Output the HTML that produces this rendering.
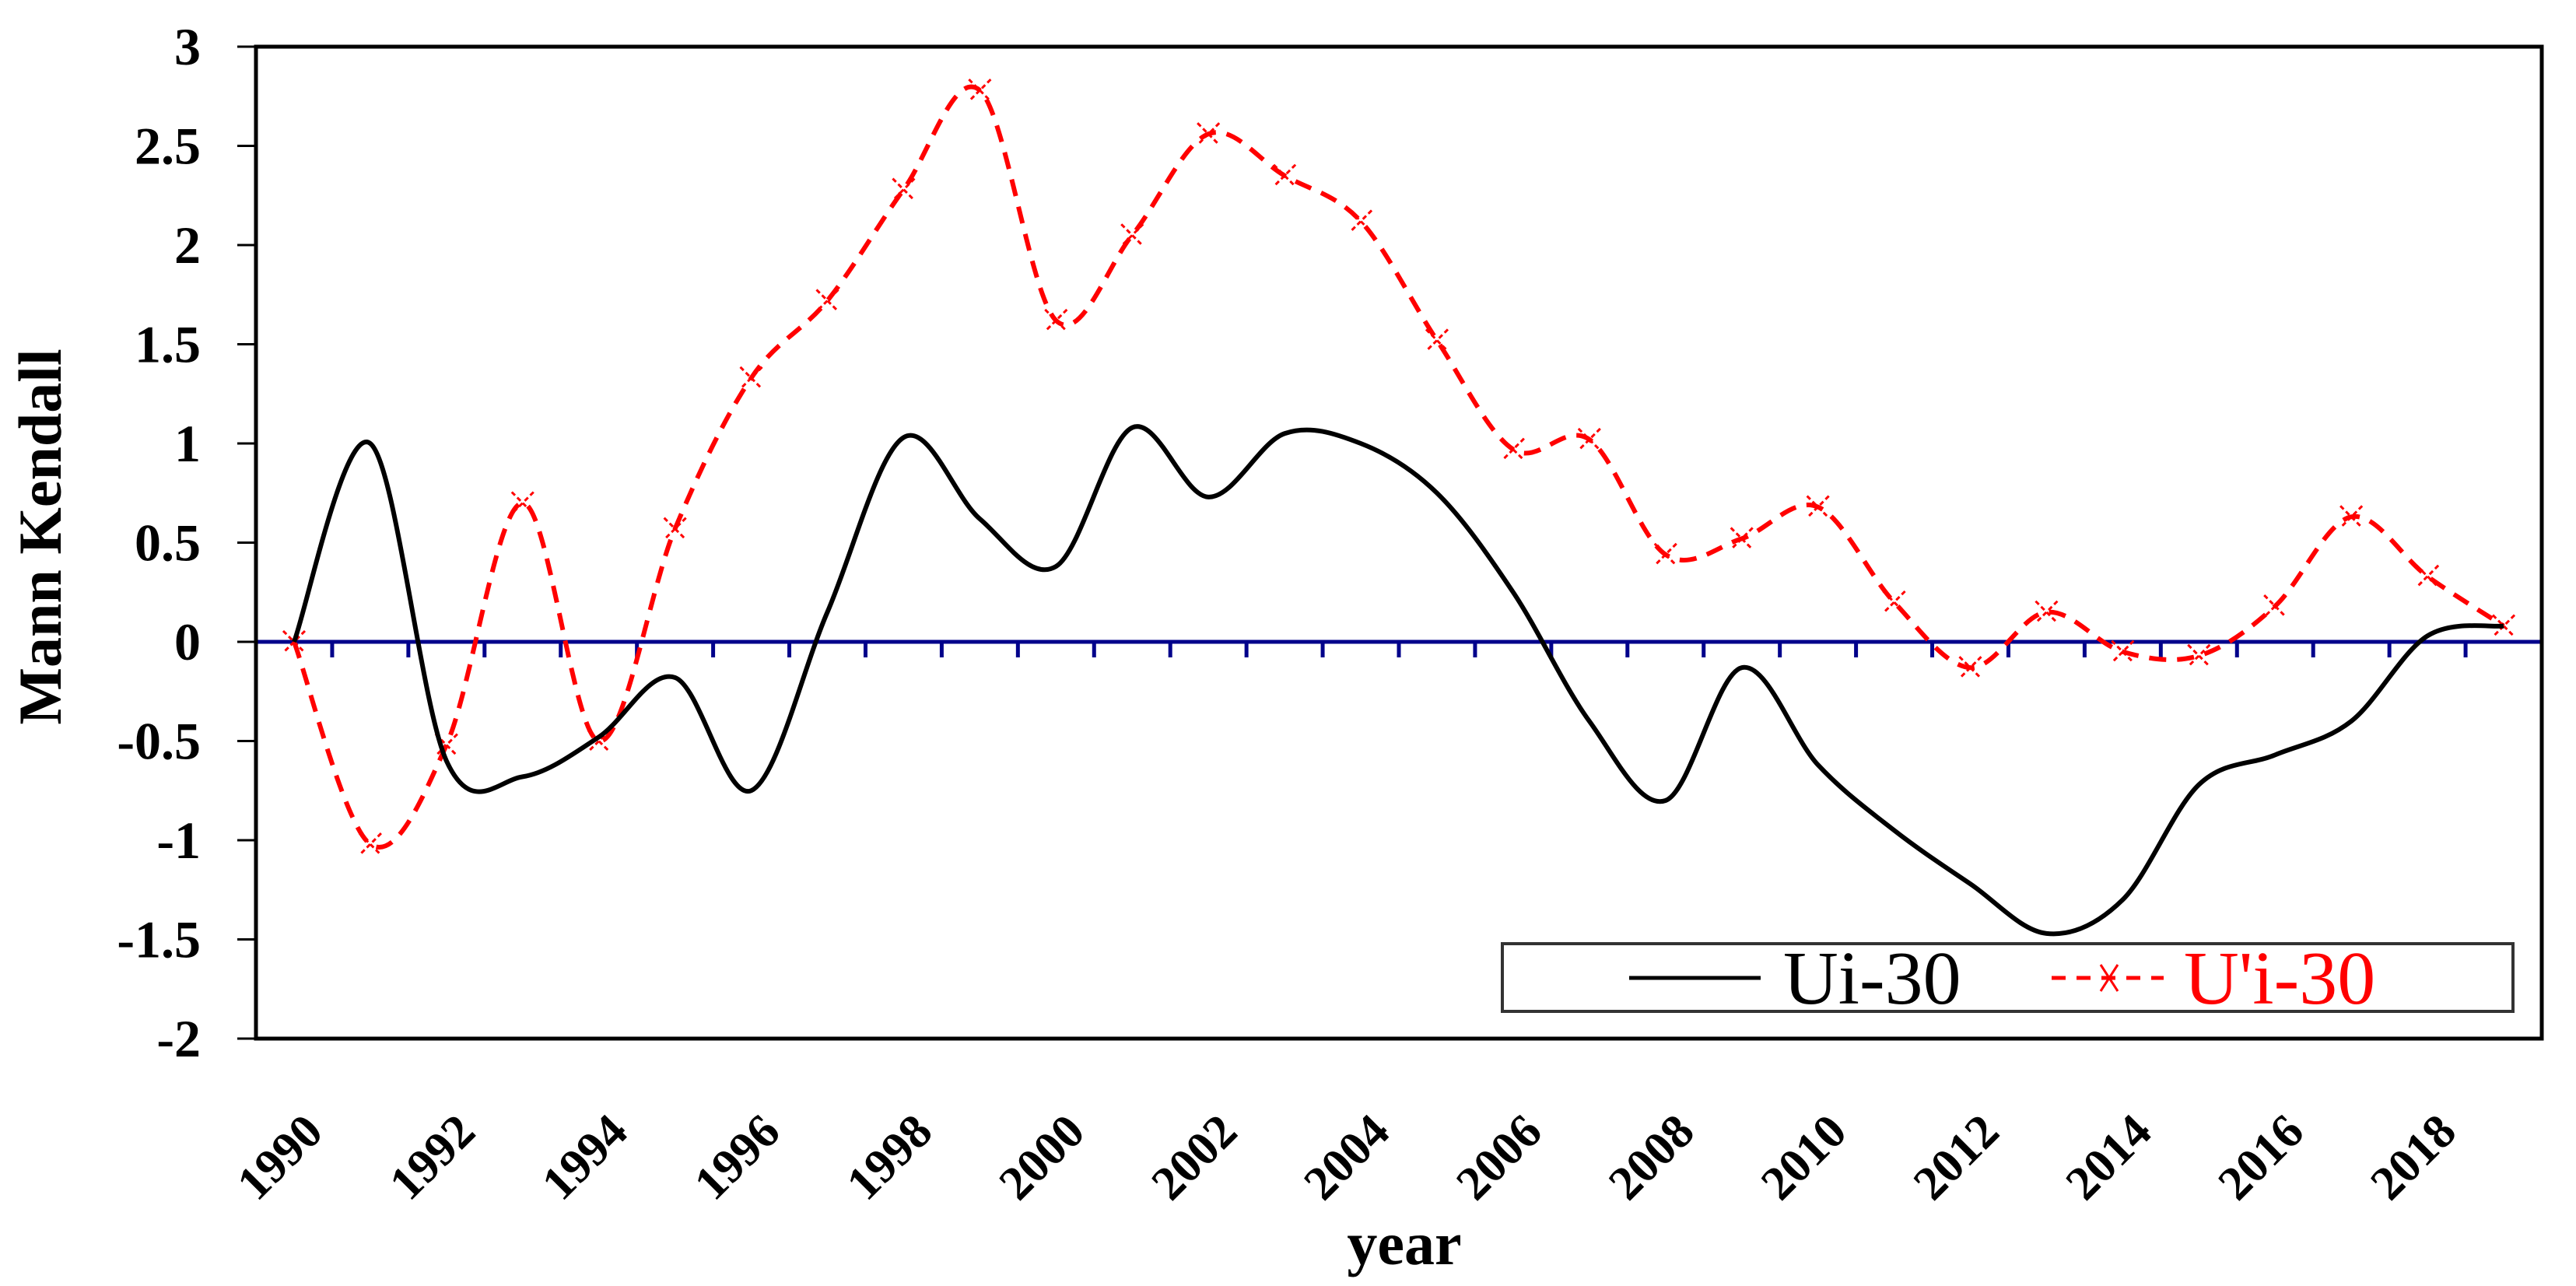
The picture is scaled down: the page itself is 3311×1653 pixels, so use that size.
<!DOCTYPE html>
<html><head><meta charset="utf-8"><style>
html,body{margin:0;padding:0;background:#fff;}
svg{display:block;font-family:"Liberation Serif","DejaVu Serif",serif;}
</style></head><body>
<svg id="chart" width="3311" height="1653" viewBox="0 0 3311 1653" xmlns="http://www.w3.org/2000/svg">
<rect x="0" y="0" width="3311" height="1653" fill="#fff"/>
<g id="yticks"></g>
<g id="xlabels"></g>
<g id="series"></g>
<rect x="329" y="60" width="2938" height="1275" fill="none" stroke="#000" stroke-width="5"/>
<text x="78" y="690" font-size="78" font-weight="bold" text-anchor="middle" transform="rotate(-90 78 690)">Mann Kendall</text>
<text x="1805" y="1625" font-size="78" font-weight="bold" text-anchor="middle">year</text>
<g>
<rect x="1931" y="1213" width="1299" height="87" fill="#fff" stroke="#333" stroke-width="4"/>
<line x1="2094" y1="1257" x2="2263" y2="1257" stroke="#000" stroke-width="5"/>
<text x="2292" y="1290" font-size="98" fill="#000">Ui-30</text>
<line x1="2637" y1="1257" x2="2781" y2="1257" stroke="#f00" stroke-width="5" stroke-dasharray="18 14"/>
<path d="M2700 1240 L2722 1274 M2722 1240 L2700 1274" stroke="#f00" stroke-width="3"/>
<text x="2807" y="1290" font-size="98" fill="#f00">U'i-30</text>
</g>
</svg>
<script>
const years = [1990,1991,1992,1993,1994,1995,1996,1997,1998,1999,2000,2001,2002,2003,2004,2005,2006,2007,2008,2009,2010,2011,2012,2013,2014,2015,2016,2017,2018,2019];
const uiValues = [0,1.0,-0.6,-0.68,-0.48,-0.18,-0.75,0.15,1.03,0.62,0.38,1.08,0.73,1.05,1.0,0.75,0.25,-0.4,-0.8,-0.13,-0.62,-0.95,-1.22,-1.47,-1.3,-0.72,-0.57,-0.4,0.03,0.08];
const uPrimeValues = [0,-1.02,-0.52,0.7,-0.5,0.57,1.33,1.72,2.28,2.78,1.62,2.05,2.56,2.35,2.12,1.52,0.97,1.02,0.44,0.52,0.68,0.2,-0.13,0.15,-0.05,-0.07,0.18,0.63,0.33,0.08];
const yTickValues = [3,2.5,2,1.5,1,0.5,0,-0.5,-1,-1.5,-2];
const yTickLabels = ["3","2.5","2","1.5","1","0.5","0","-0.5","-1","-1.5","-2"];

const NS = "http://www.w3.org/2000/svg";
const PL = 329, PR = 3267, PT = 60, PB = 1335, YMAX = 3, YMIN = -2;
const bw = (PR - PL) / years.length;
function xScale(i){ return PL + bw * (i + 0.5); }
function yScale(v){ return PT + (YMAX - v) / (YMAX - YMIN) * (PB - PT); }
function mk(tag, attrs, parent){ const e = document.createElementNS(NS, tag); for (const k in attrs) e.setAttribute(k, attrs[k]); parent.appendChild(e); return e; }

const yt = document.getElementById('yticks');
yTickValues.forEach((v, i) => {
  const y = yScale(v);
  const t = mk('line', {x1: 305, y1: y, x2: PL, y2: y, stroke: '#000', 'stroke-width': 3}, yt);
  
  
  const l = mk('text', {x: 258, y: y + 23, 'font-size': 68, 'font-weight': 'bold', 'text-anchor': 'end'}, yt);
  l.textContent = yTickLabels[i];
  
  
});

const xl = document.getElementById('xlabels');
years.forEach((yr, i) => {
  if (yr % 2 !== 0) return;
  const x = xScale(i) + 40, y = 1458;
  const l = mk('text', {x: x, y: y, 'font-size': 62, 'font-weight': 'bold', 'text-anchor': 'end', transform: 'rotate(-45 ' + x + ' ' + y + ')'}, xl);
  l.textContent = String(yr);
  
  
});

const sg = document.getElementById('series');
const zy = yScale(0);
const zl = mk('line', {x1: PL, y1: zy, x2: PR, y2: zy, stroke: '#00008b', 'stroke-width': 5}, sg);


for (let k = 0; k <= years.length; k++) {
  const x = PL + bw * k;
  const t = mk('line', {x1: x, y1: zy, x2: x, y2: zy + 20, stroke: '#00008b', 'stroke-width': 5}, sg);
  
  
}

function smoothPath(vals){
  const p = vals.map((v, i) => [xScale(i), yScale(v)]);
  let d = 'M' + p[0][0] + ' ' + p[0][1];
  for (let i = 0; i < p.length - 1; i++) {
    const p0 = p[Math.max(0, i - 1)], p1 = p[i], p2 = p[i + 1], p3 = p[Math.min(p.length - 1, i + 2)];
    const c1 = [p1[0] + (p2[0] - p0[0]) / 6, p1[1] + (p2[1] - p0[1]) / 6];
    const c2 = [p2[0] - (p3[0] - p1[0]) / 6, p2[1] - (p3[1] - p1[1]) / 6];
    d += ' C' + c1[0] + ' ' + c1[1] + ' ' + c2[0] + ' ' + c2[1] + ' ' + p2[0] + ' ' + p2[1];
  }
  return d;
}

const red = mk('path', {d: smoothPath(uPrimeValues), fill: 'none', stroke: '#f00', 'stroke-width': 6, 'stroke-dasharray': '22 14'}, sg);


uPrimeValues.forEach((v, i) => {
  const x = xScale(i), y = yScale(v);
  const m = mk('path', {d: 'M' + (x - 14) + ' ' + (y - 14) + ' L' + (x + 14) + ' ' + (y + 14) + ' M' + (x + 14) + ' ' + (y - 14) + ' L' + (x - 14) + ' ' + (y + 14), stroke: '#f00', 'stroke-width': 3, 'stroke-dasharray': '6 4'}, sg);
  
  
});

const blk = mk('path', {d: smoothPath(uiValues), fill: 'none', stroke: '#000', 'stroke-width': 6}, sg);


</script>
</body></html>
